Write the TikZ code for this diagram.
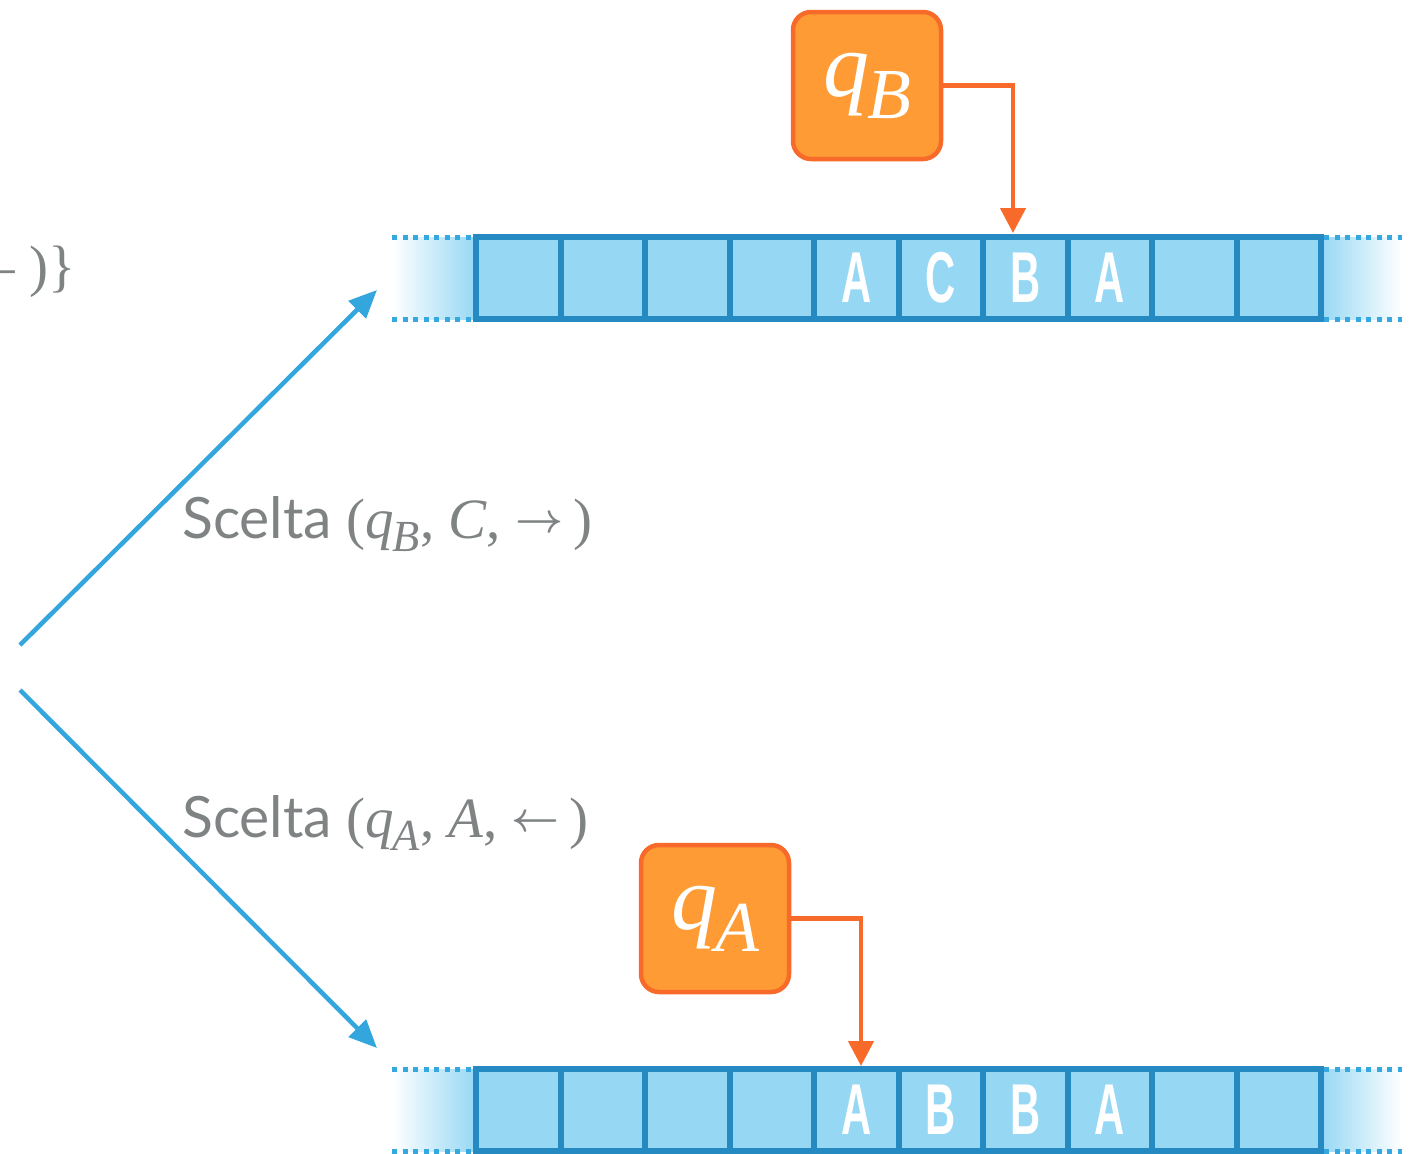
\documentclass[tikz,border=0pt]{standalone}
\usepackage{fontspec}
\setmainfont{Lato}
\newfontfamily\cellfont{Liberation Sans}
\newfontfamily\serf{Liberation Serif}
\usetikzlibrary{arrows.meta}
\definecolor{cellfill}{HTML}{96D8F4}
\definecolor{celledge}{HTML}{2589C2}
\definecolor{dotblue}{HTML}{35A8DF}
\definecolor{qfill}{HTML}{FE9B34}
\definecolor{qedge}{HTML}{F86A2A}
\definecolor{arrblue}{HTML}{33A6DE}
\definecolor{txtgray}{HTML}{7F8384}
\newcommand{\cellletter}[1]{\scalebox{0.58}[1]{\fontsize{72}{80}\selectfont\cellfont\bfseries #1}}
\makeatletter
\newcommand{\qs}[1]{{\serf\itshape q\kern-0.02em\raisebox{-0.24em}{\fontsize{\dimexpr 0.78\dimexpr\f@size pt\relax\relax}{10}\selectfont #1}}}
\makeatother
\newcommand{\rarr}{\raisebox{0.1em}{\resizebox{48pt}{!}{\normalsize$\boldsymbol{\rightarrow}$}}}
\newcommand{\larr}{\raisebox{0.1em}{\resizebox{48pt}{!}{\normalsize$\boldsymbol{\leftarrow}$}}}
\usepackage{amsmath}
\begin{document}
\begin{tikzpicture}[x=1pt,y=-1pt,
  cellbox/.style={draw=celledge,fill=cellfill,line width=6pt,minimum width=84.5pt,minimum height=82pt,inner sep=0pt,text=white,font=\cellfont},
  statebox/.style={draw=qedge,fill=qfill,line width=4.5pt,rounded corners=18pt,minimum width=148pt,minimum height=147pt,inner sep=0pt,text=white,font=\fontsize{92}{100}\selectfont},
  headarrow/.style={draw=qedge,line width=4.5pt,-{Triangle[width=25pt,length=25pt]}},
  movearrow/.style={draw=arrblue,line width=4.5pt,-{Triangle[width=24pt,length=28pt]}},
  tapedots/.style={draw=dotblue,line width=5pt,dash pattern=on 5pt off 5.5pt},
  lbl/.style={text=txtgray,font=\fontsize{57}{68}\selectfont,inner sep=0pt}]
\useasboundingbox (0,0) rectangle (1422,1154);
\clip (0,0) rectangle (1422,1154);

% ---- tape ends (gradients and dotted edges)
\foreach \yt/\yb in {237/319, 1069/1151}{
  \fill[left color=white,right color=cellfill] (392,\yt) rectangle (476,\yb);
  \fill[left color=cellfill,right color=white] (1321,\yt) rectangle (1402,\yb);
  \draw[tapedots] (392,\yt) -- (476,\yt);
  \draw[tapedots] (392,\yb) -- (476,\yb);
  \draw[tapedots] (1324,\yt) -- (1402,\yt);
  \draw[tapedots] (1324,\yb) -- (1402,\yb);
}

% ---- top tape
\foreach \i/\c in {1/,2/,3/,4/,5/A,6/C,7/B,8/A,9/,10/}{
  \node[cellbox] (t\i) at ({476+84.5*(\i-0.5)},278) {\cellletter{\c}};
}
% ---- bottom tape
\foreach \i/\c in {1/,2/,3/,4/,5/A,6/B,7/B,8/A,9/,10/}{
  \node[cellbox] (b\i) at ({476+84.5*(\i-0.5)},1110) {\cellletter{\c}};
}

% ---- state boxes
\node[statebox] (qB) at (867,85.5) {\qs{B}};
\node[statebox] (qA) at (715,918.5) {\qs{A}};

\coordinate (hB) at (1013,233);
\coordinate (hA) at (861,1066);
\draw[headarrow] (qB.east) -| (hB);
\draw[headarrow] (qA.east) -| (hA);

% ---- branching arrows
\coordinate (o1) at (20,645);
\coordinate (o2) at (20,690);
\coordinate (e1) at (377,290);
\coordinate (e2) at (377,1048);
\draw[movearrow] (o1) -- (e1);
\draw[movearrow] (o2) -- (e2);

% ---- labels
\node[lbl,anchor=base west] (l1) at (182,538) {Scelta {\serf (\qs{B}, \textit{C}, \rarr\hspace{10pt})}};
\node[lbl,anchor=base west] (l2) at (182,837) {Scelta {\serf (\qs{A}, \textit{A}, \larr\hspace{10pt})}};
\node[lbl,anchor=base east] (l0) at (76,285) {{\serf – )\}}};
\end{tikzpicture}
\end{document}
